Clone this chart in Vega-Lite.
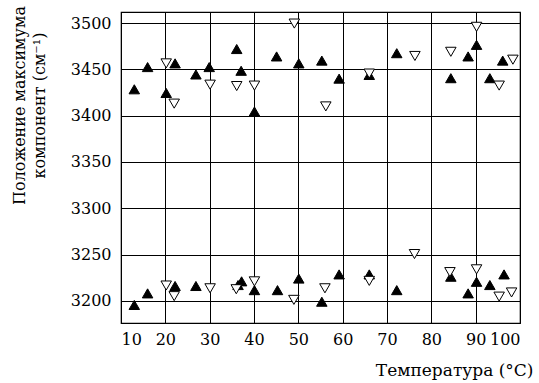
{
  "$schema": "https://vega.github.io/schema/vega-lite/v6.json",
  "width": 399,
  "height": 311,
  "autosize": {"type": "none"},
  "padding": {"left": 121, "top": 12, "right": 19, "bottom": 60},
  "background": "white",
  "config": {
    "font": "DejaVu Serif",
    "view": {"stroke": "black", "strokeWidth": 1.2},
    "axis": {
      "labelFont": "DejaVu Serif",
      "titleFont": "DejaVu Serif",
      "labelFontSize": 16,
      "titleFontSize": 16,
      "labelColor": "black",
      "titleColor": "black",
      "titleFontWeight": "normal",
      "gridColor": "black",
      "gridOpacity": 1,
      "gridWidth": 1,
      "ticks": false,
      "domain": false
    }
  },
  "data": {
    "values": [
      {"t": 13, "v": 3428.5, "s": "A"},
      {"t": 16, "v": 3452.5, "s": "A"},
      {"t": 20.2, "v": 3424.5, "s": "A"},
      {"t": 22.2, "v": 3456.5, "s": "A"},
      {"t": 26.9, "v": 3444.5, "s": "A"},
      {"t": 29.9, "v": 3452.5, "s": "A"},
      {"t": 36.1, "v": 3472, "s": "A"},
      {"t": 37.1, "v": 3448.5, "s": "A"},
      {"t": 40.1, "v": 3404.5, "s": "A"},
      {"t": 45.1, "v": 3464, "s": "A"},
      {"t": 50.1, "v": 3456.5, "s": "A"},
      {"t": 55.3, "v": 3459.5, "s": "A"},
      {"t": 59.2, "v": 3440, "s": "A"},
      {"t": 66, "v": 3444, "s": "A"},
      {"t": 72.2, "v": 3467.5, "s": "A"},
      {"t": 84.4, "v": 3440.5, "s": "A"},
      {"t": 88.3, "v": 3464, "s": "A"},
      {"t": 90.2, "v": 3476.5, "s": "A"},
      {"t": 93.2, "v": 3440.5, "s": "A"},
      {"t": 96.1, "v": 3459.5, "s": "A"},
      {"t": 13, "v": 3195.5, "s": "A"},
      {"t": 16, "v": 3208, "s": "A"},
      {"t": 22.2, "v": 3216, "s": "A"},
      {"t": 26.9, "v": 3216, "s": "A"},
      {"t": 36.4, "v": 3217, "s": "A"},
      {"t": 37.2, "v": 3221, "s": "A"},
      {"t": 40.1, "v": 3211.5, "s": "A"},
      {"t": 45.3, "v": 3211.5, "s": "A"},
      {"t": 50.1, "v": 3224, "s": "A"},
      {"t": 55.3, "v": 3199, "s": "A"},
      {"t": 59.2, "v": 3228.5, "s": "A"},
      {"t": 66, "v": 3228.5, "s": "A"},
      {"t": 72.2, "v": 3211.5, "s": "A"},
      {"t": 84.4, "v": 3226, "s": "A"},
      {"t": 88.3, "v": 3208, "s": "A"},
      {"t": 90.2, "v": 3220.5, "s": "A"},
      {"t": 93.2, "v": 3217, "s": "A"},
      {"t": 96.4, "v": 3228.5, "s": "A"},
      {"t": 20.2, "v": 3456.5, "s": "B"},
      {"t": 22, "v": 3413, "s": "B"},
      {"t": 30.1, "v": 3433.5, "s": "B"},
      {"t": 36.1, "v": 3432, "s": "B"},
      {"t": 40.1, "v": 3432.5, "s": "B"},
      {"t": 49.1, "v": 3499.5, "s": "B"},
      {"t": 56.2, "v": 3410, "s": "B"},
      {"t": 66, "v": 3445.5, "s": "B"},
      {"t": 76.3, "v": 3464.5, "s": "B"},
      {"t": 84.4, "v": 3469, "s": "B"},
      {"t": 90.2, "v": 3496, "s": "B"},
      {"t": 95.3, "v": 3432.5, "s": "B"},
      {"t": 98.4, "v": 3460.5, "s": "B"},
      {"t": 20.2, "v": 3216.5, "s": "B"},
      {"t": 22, "v": 3205, "s": "B"},
      {"t": 30.1, "v": 3213.5, "s": "B"},
      {"t": 36, "v": 3212.5, "s": "B"},
      {"t": 40.1, "v": 3221, "s": "B"},
      {"t": 49, "v": 3201, "s": "B"},
      {"t": 56, "v": 3213.5, "s": "B"},
      {"t": 66, "v": 3221.5, "s": "B"},
      {"t": 76.2, "v": 3250.5, "s": "B"},
      {"t": 84.2, "v": 3231, "s": "B"},
      {"t": 90.2, "v": 3234, "s": "B"},
      {"t": 95.3, "v": 3204.5, "s": "B"},
      {"t": 98.1, "v": 3209, "s": "B"}
    ]
  },
  "mark": {"type": "point", "filled": false, "stroke": "black", "strokeWidth": 1, "opacity": 1, "size": 110},
  "encoding": {
    "x": {
      "field": "t",
      "type": "quantitative",
      "scale": {"domain": [10, 100], "nice": false, "zero": false},
      "axis": {
        "values": [10, 20, 30, 40, 50, 60, 70, 80, 90, 100],
        "format": "d",
        "labelPadding": 8,
        "title": "Температура (°C)",
        "titleFontSize": 17,
        "titleAnchor": "end",
        "titleAlign": "right",
        "titleBaseline": "alphabetic",
        "titleX": 412,
        "titleY": 52
      }
    },
    "y": {
      "field": "v",
      "type": "quantitative",
      "scale": {"domain": [3176, 3512], "nice": false, "zero": false},
      "axis": {
        "values": [3200, 3250, 3300, 3350, 3400, 3450, 3500],
        "format": "d",
        "labelPadding": 10,
        "title": ["Положение максимума", "компонент (см⁻¹)"],
        "titleFontSize": 16,
        "titleAngle": -90,
        "titleAlign": "center",
        "titleBaseline": "alphabetic",
        "titleLineHeight": 20,
        "titleX": -97,
        "titleY": 93
      }
    },
    "shape": {
      "field": "s",
      "type": "nominal",
      "scale": {"domain": ["A", "B"], "range": ["triangle-up", "triangle-down"]},
      "legend": null
    },
    "fill": {
      "field": "s",
      "type": "nominal",
      "scale": {"domain": ["A", "B"], "range": ["black", "white"]},
      "legend": null
    }
  }
}
